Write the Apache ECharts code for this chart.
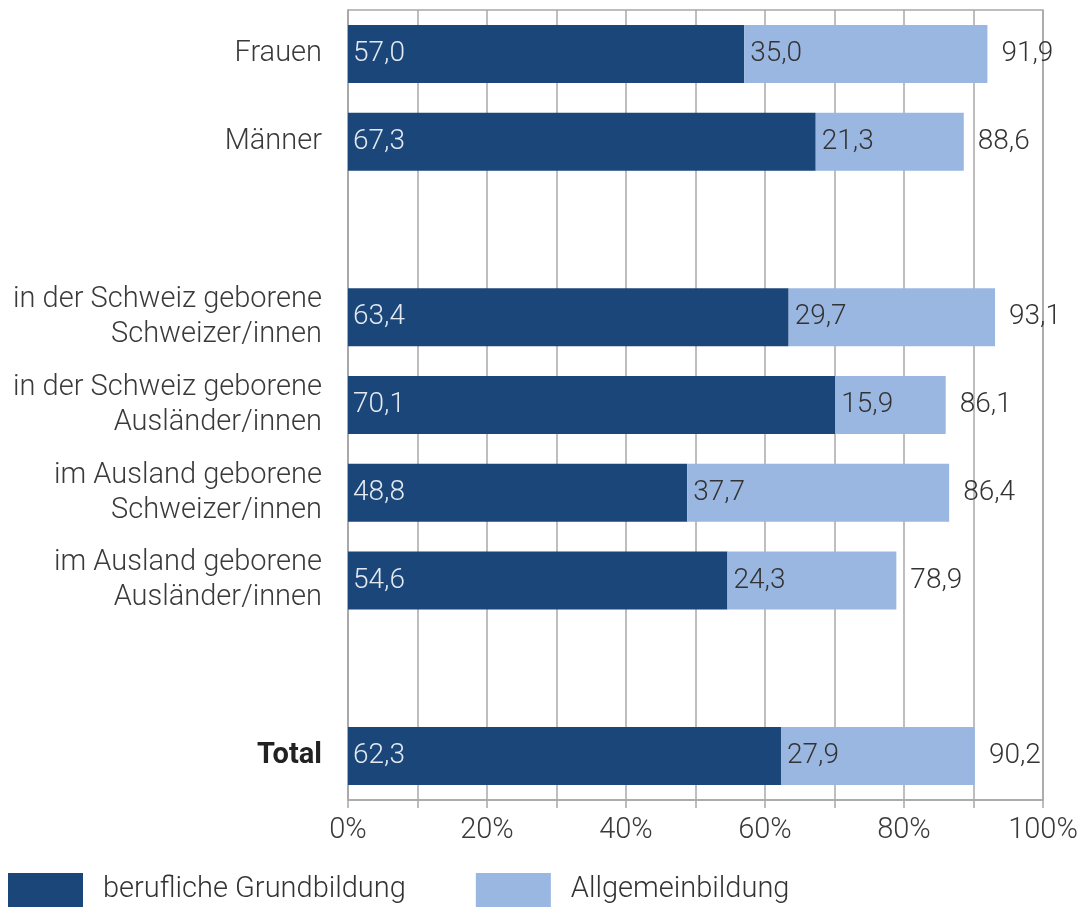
<!DOCTYPE html>
<html>
<head>
<meta charset="utf-8">
<script src="https://cdn.jsdelivr.net/npm/echarts@6/dist/echarts.min.js"></script>
<style>
  html, body { margin: 0; padding: 0; background: #fff; }
  #chart { width: 1082px; height: 908px; }
</style>
</head>
<body>
<div id="chart"></div>
<script>
// Kategorien (leere Einträge = Abstände)
var categories = [
  'Frauen',
  'Männer',
  ' ',
  'in der Schweiz geborene\nSchweizer/innen',
  'in der Schweiz geborene\nAusländer/innen',
  'im Ausland geborene\nSchweizer/innen',
  'im Ausland geborene\nAusländer/innen',
  '  ',
  'Total'
];
var berufliche = [57.0, 67.3, '-', 63.4, 70.1, 48.8, 54.6, '-', 62.3];
var allgemein = [35.0, 21.3, '-', 29.7, 15.9, 37.7, 24.3, '-', 27.9];
var totals = [91.9, 88.6, '-', 93.1, 86.1, 86.4, 78.9, '-', 90.2];
var xTicks = [0, 20, 40, 60, 80, 100];

var FONT = 'Roboto';
var fmt = function (v) { return Number(v).toFixed(1).replace('.', ','); };

var chart = echarts.init(document.getElementById('chart'));

var option = {
  animation: false,
  textStyle: { fontFamily: FONT, fontWeight: 300 },
  grid: {
    left: 348,
    right: 39,
    top: 10,
    bottom: 108,
    show: true,
    borderColor: '#a8a8a8',
    borderWidth: 1.5
  },
  legend: {
    left: 8,
    bottom: 1,
    padding: 0,
    itemWidth: 75,
    itemHeight: 34,
    itemGap: 70,
    icon: 'rect',
    textStyle: {
      fontFamily: FONT,
      fontWeight: 300,
      fontSize: 29,
      color: '#333',
      padding: [0, 0, 0, 15]
    },
    data: ['berufliche Grundbildung', 'Allgemeinbildung']
  },
  xAxis: {
    type: 'value',
    min: 0,
    max: 100,
    interval: 10,
    axisLine: { show: true, lineStyle: { color: '#a8a8a8', width: 1.5 } },
    axisTick: { show: true, length: 8, lineStyle: { color: '#a8a8a8', width: 1.5 } },
    splitLine: { show: true, lineStyle: { color: '#a8a8a8', width: 1.5 } },
    axisLabel: {
      margin: 16,
      fontFamily: FONT,
      fontWeight: 300,
      fontSize: 29,
      color: '#3a3a3a',
      formatter: function (v) {
        return xTicks.indexOf(v) >= 0 ? v + '%' : '';
      }
    }
  },
  yAxis: {
    type: 'category',
    inverse: true,
    data: categories.map(function (c) {
      return c === 'Total'
        ? { value: c, textStyle: { fontWeight: 'bold', color: '#222' } }
        : c;
    }),
    axisLine: { show: true, lineStyle: { color: '#a8a8a8', width: 1.5 } },
    axisTick: { show: false },
    axisLabel: {
      margin: 26,
      fontFamily: FONT,
      fontWeight: 300,
      fontSize: 29,
      lineHeight: 35,
      color: '#3a3a3a',
      align: 'right'
    }
  },
  series: [
    {
      name: 'berufliche Grundbildung',
      type: 'bar',
      stack: 'a',
      barWidth: 58,
      data: berufliche,
      itemStyle: { color: '#1b4679' },
      label: {
        show: true,
        position: 'insideLeft',
        distance: 5,
        fontFamily: FONT,
        fontWeight: 300,
        fontSize: 28,
        color: '#e3e9f1',
        formatter: function (p) { return fmt(p.value); }
      }
    },
    {
      name: 'Allgemeinbildung',
      type: 'bar',
      stack: 'a',
      barWidth: 58,
      data: allgemein,
      itemStyle: { color: '#9ab7e2' },
      label: {
        show: true,
        position: 'insideLeft',
        distance: 6,
        fontFamily: FONT,
        fontWeight: 300,
        fontSize: 28,
        color: '#333',
        formatter: function (p) { return fmt(p.value); }
      }
    },
    {
      name: 'Total',
      type: 'bar',
      stack: 'a',
      barWidth: 58,
      data: totals.map(function (t) { return t === '-' ? '-' : 0; }),
      itemStyle: { color: 'rgba(0,0,0,0)' },
      label: {
        show: true,
        position: 'right',
        distance: 14,
        fontFamily: FONT,
        fontWeight: 300,
        fontSize: 28,
        color: '#333',
        formatter: function (p) { return fmt(totals[p.dataIndex]); }
      }
    }
  ]
};

chart.setOption(option);
</script>
</body>
</html>
